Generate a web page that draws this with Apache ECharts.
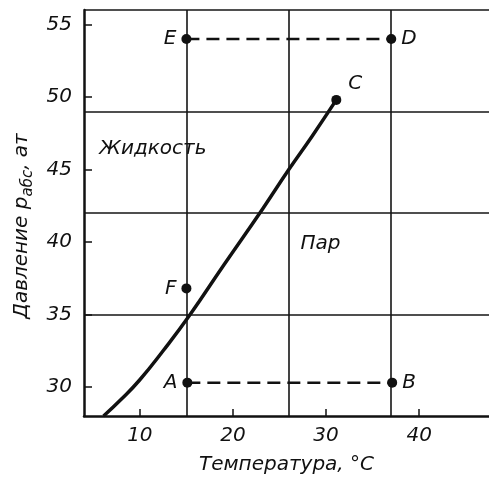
<!DOCTYPE html>
<html>
<head>
<meta charset="utf-8">
<script src="https://cdn.jsdelivr.net/npm/echarts@6/dist/echarts.min.js"></script>
<style>
html,body{margin:0;padding:0;background:#fff;}
#chart{width:489px;height:482px;}
</style>
</head>
<body>
<div id="chart"></div>
<script>
// Saturation curve (temperature °C, pressure at)
const curveTemp = [6.1, 8, 10, 12.5, 15.4, 19, 23.2, 26, 28.5, 31.1];
const curvePress = [28, 29.15, 30.5, 32.5, 35, 38.4, 42.3, 45, 47.3, 49.8];
// Named points
const pointNames = ['E', 'D', 'C', 'F', 'A', 'B'];
const pointTemp = [15, 37, 31.1, 15, 15.1, 37.1];
const pointPress = [54, 54, 49.8, 36.8, 30.3, 30.3];
// Dashed segments (pairs of point names)
const dashedSegments = [['E', 'D'], ['A', 'B']];
// Region labels
const regionNames = ['Жидкость', 'Пар'];
const regionTemp = [11.4, 29.4];
const regionPress = [46.4, 39.9];
// Grid lines
const gridTemps = [15, 26, 37];
const gridPress = [35, 42, 49, 56];
// Tick labels
const xTicks = [10, 20, 30, 40];
const yTicks = [30, 35, 40, 45, 50, 55];

const FONT = 'DejaVu Sans';
const INK = '#111111';
const labelPos = {E: 'left', D: 'right', C: 'right', F: 'left', A: 'left', B: 'right'};
const labelOffset = {E: [0, 0], D: [0, 0], C: [2, -16], F: [0, 0], A: [0, 0], B: [0, 0]};

function pt(name) {
  const i = pointNames.indexOf(name);
  return [pointTemp[i], pointPress[i]];
}

const chart = echarts.init(document.getElementById('chart'), null, {renderer: 'canvas'});

const textStyle = {fontFamily: FONT, fontStyle: 'italic', fontSize: 20, color: INK};

const series = [];

// grid lines via markLine
series.push({
  type: 'line',
  data: [],
  silent: true,
  markLine: {
    silent: true,
    symbol: ['none', 'none'],
    label: {show: false},
    lineStyle: {color: '#151515', width: 1.6, type: 'solid', opacity: 1},
    emphasis: {disabled: true},
    animation: false,
    data: gridTemps.map(v => ({xAxis: v})).concat(gridPress.map(v => ({yAxis: v})))
  }
});

// saturation curve
series.push({
  type: 'line',
  data: curveTemp.map((t, i) => [t, curvePress[i]]),
  smooth: true,
  showSymbol: false,
  lineStyle: {color: INK, width: 3.5},
  silent: true,
  animation: false
});

// dashed segments
dashedSegments.forEach(seg => {
  series.push({
    type: 'line',
    data: [pt(seg[0]), pt(seg[1])],
    showSymbol: false,
    lineStyle: {color: INK, width: 2.5, type: [13, 7]},
    silent: true,
    animation: false
  });
});

// points
series.push({
  type: 'scatter',
  data: pointNames.map((n, i) => ({
    value: [pointTemp[i], pointPress[i]],
    label: {position: labelPos[n], offset: labelOffset[n]}
  })),
  symbolSize: 10,
  itemStyle: {color: INK, opacity: 1},
  label: Object.assign({show: true, distance: 5, opacity: 1, formatter: p => pointNames[p.dataIndex]}, textStyle),
  silent: true,
  animation: false,
  z: 5
});

// region labels
series.push({
  type: 'scatter',
  data: regionNames.map((n, i) => [regionTemp[i], regionPress[i]]),
  symbolSize: 0,
  itemStyle: {opacity: 1},
  label: Object.assign({show: true, position: 'inside', opacity: 1, formatter: p => regionNames[p.dataIndex]}, textStyle),
  silent: true,
  animation: false
});

chart.setOption({
  backgroundColor: '#fff',
  animation: false,
  grid: {left: 84, right: 0, top: 10, bottom: 66, containLabel: false},
  xAxis: {
    type: 'value',
    min: 4,
    max: 47.5,
    name: 'Температура, °С',
    nameLocation: 'middle',
    nameGap: 39,
    nameTextStyle: Object.assign({}, textStyle),
    axisLine: {show: true, lineStyle: {color: INK, width: 2.5}},
    axisTick: {show: true, inside: true, length: 7, customValues: xTicks, lineStyle: {color: INK, width: 1.5}},
    axisLabel: Object.assign({show: true, margin: 10, customValues: xTicks}, textStyle),
    splitLine: {show: false}
  },
  yAxis: {
    type: 'value',
    min: 28,
    max: 56,
    name: 'Давление {i|p}{sub|абс}{i|, ат}',
    nameLocation: 'middle',
    nameRotate: 90,
    nameGap: 47,
    nameTextStyle: Object.assign({}, textStyle, {
      padding: [0, 26, 0, 0],
      rich: {
        i: {fontFamily: FONT, fontStyle: 'italic', fontSize: 20, color: INK},
        sub: {fontFamily: FONT, fontStyle: 'italic', fontSize: 15, color: INK, verticalAlign: 'bottom', padding: [13, 0, 0, 0]}
      }
    }),
    axisLine: {show: true, lineStyle: {color: INK, width: 2.5}},
    axisTick: {show: true, inside: true, length: 8, customValues: yTicks, lineStyle: {color: INK, width: 1.5}},
    axisLabel: Object.assign({show: true, margin: 12, customValues: yTicks}, textStyle),
    splitLine: {show: false}
  },
  series: series
});
</script>
</body>
</html>
